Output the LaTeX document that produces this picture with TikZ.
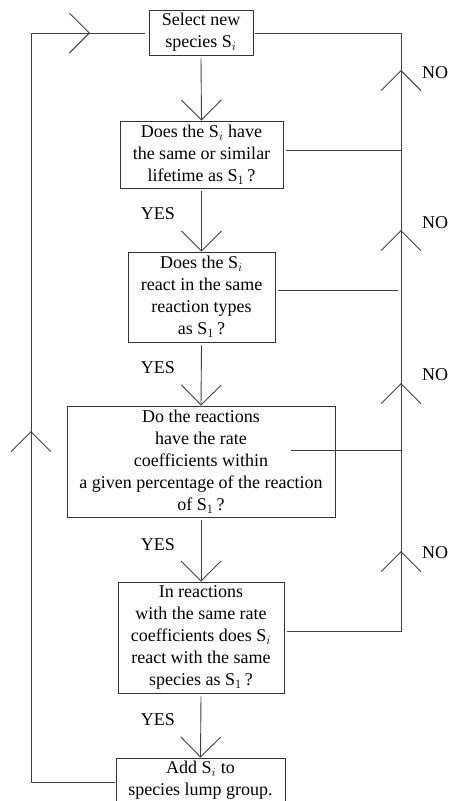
\documentclass[tikz,border=0pt]{standalone}
\usepackage{fix-cm}
\usepackage{fontspec}
\setmainfont{Liberation Serif}
\usetikzlibrary{arrows.meta}

\tikzset{
  box/.style={draw=black!80, line width=0.9pt, align=center, inner sep=0pt, font=\fontsize{18}{22}\selectfont},
  lbl/.style={font=\fontsize{18}{22}\selectfont, inner sep=0pt},
  line/.style={line width=0.9pt, draw=black!75},
  chev/.style={line, -{Straight Barb[length=20pt,width=40pt]}},
}

\begin{document}
\begin{tikzpicture}[x=1pt,y=-1pt]
    \useasboundingbox (0,0) rectangle (448,801);

    % Boxes of the lumping test
    \node[box, minimum width=104pt, minimum height=45pt] (sel) at (201,32.5) {Select new\\species S$_i$};
    \node[box, minimum width=163pt, minimum height=67pt] (q1) at (201.5,154.5) {Does the S$_i$ have\\the same or similar\\lifetime as S$_1$\,?};
    \node[box, minimum width=147pt, minimum height=90pt] (q2) at (201.5,297) {Does the S$_i$\\react in the same\\reaction types\\as S$_1$\,?};
    \node[box, minimum width=268pt, minimum height=111pt] (q3) at (201,461.5) {Do the reactions\\have the rate\\coefficients within\\a given percentage of the reaction\\of S$_1$\,?};
    \node[box, minimum width=166pt, minimum height=111pt] (q4) at (201,637.5) {In reactions\\with the same rate\\coefficients does S$_i$\\react with the same\\species as S$_1$\,?};
    \node[box, minimum width=169pt, minimum height=45pt] (add) at (200.5,780.5) {Add S$_i$ to\\species lump group.};

    % YES path (down the middle)
    \draw[chev] ([yshift=-3pt]sel.south) -- (q1.north);
    \draw[chev] ([yshift=-3pt]q1.south) -- (q2.north);
    \draw[chev] ([yshift=-3pt]q2.south) -- (q3.north);
    \draw[chev] ([yshift=-3pt]q3.south) -- (q4.north);
    \draw[chev] ([yshift=-3pt]q4.south) -- (add.north);
    \node[lbl] (yes1) at (158,214) {YES};
    \node[lbl] (yes2) at (158,368) {YES};
    \node[lbl] (yes3) at (158,545) {YES};
    \node[lbl] (yes4) at (158,720) {YES};

    % NO path (back up on the right)
    \coordinate (tr) at (401,33);
    \coordinate (br) at (401,631);
    \coordinate (r1) at (401,150);
    \coordinate (r2) at (398,290);
    \coordinate (r3) at (401,450);
    \draw[line] ([xshift=3pt,yshift=6.5pt]q4.east) -- (br) -- (tr) -- ([xshift=2pt,yshift=-0.5pt]sel.east);
    \draw[line] ([xshift=3pt,yshift=4.5pt]q1.east) -- (r1);
    \draw[line] ([xshift=3pt,yshift=7pt]q2.east) -- (r2);
    \draw[line] ([xshift=-44pt,yshift=11.5pt]q3.east) -- (r3);
    \foreach \y/\n in {70/1,230/2,383/3,551/4}{
        \coordinate (no\n) at (401,\y);
        \draw[chev] ([yshift=-10pt]no\n) -- (no\n);
    }
    \node[lbl] (nol1) at (435,73) {NO};
    \node[lbl] (nol2) at (435,223) {NO};
    \node[lbl] (nol3) at (435,375) {NO};
    \node[lbl] (nol4) at (435,553) {NO};

    % Loop back on the left
    \coordinate (bl) at (31,782);
    \coordinate (tl) at (31,33);
    \coordinate (up1) at (31,431);
    \coordinate (rt1) at (90,33);
    \draw[line] ([xshift=-1pt,yshift=-1.5pt]add.west) -- (bl) -- (tl) -- ([xshift=-4pt,yshift=-0.5pt]sel.west);
    \draw[chev] ([yshift=-10pt]up1) -- (up1);
    \draw[chev] ([xshift=-10pt]rt1) -- (rt1);
\end{tikzpicture}
\end{document}
